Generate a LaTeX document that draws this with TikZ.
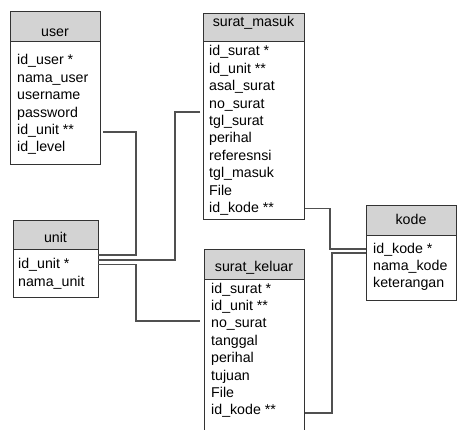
\documentclass[tikz,border=0pt]{standalone}
\usepackage{fontspec}
\setmainfont{Liberation Sans}
\definecolor{hdrgray}{HTML}{D3D3D3}
\definecolor{edgegray}{HTML}{333333}
\definecolor{conngray}{HTML}{505050}
\begin{document}
\begin{tikzpicture}[x=1pt,y=-1pt,
  tbl/.style={draw=edgegray, line width=0.9pt, inner sep=0pt, outer sep=0pt, anchor=north west},
  hdr/.style={tbl, fill=hdrgray},
  body/.style={tbl, fill=white},
  ttl/.style={font=\fontsize{14.2}{17}\selectfont, inner sep=0pt, anchor=base},
  fld/.style={font=\fontsize{14.2}{17}\selectfont, inner sep=0pt, anchor=base west},
  conn/.style={draw=conngray, line width=1.1pt}]
\useasboundingbox (0,0) rectangle (457,430);
\clip (0,0) rectangle (457,430);

% ---- user ----
\node[hdr, minimum width=90pt, minimum height=30pt] (user-h) at (10,11) {};
\node[body, minimum width=90pt, minimum height=123pt] (user-b) at (10,41) {};
\node[ttl] (user-t) at (55,37) {user};
\node[fld] (user-f1) at (17,65.0) {id\_user *};
\node[fld] (user-f2) at (17,82.4) {nama\_user};
\node[fld] (user-f3) at (17,99.8) {username};
\node[fld] (user-f4) at (17,117.2) {password};
\node[fld] (user-f5) at (17,134.6) {id\_unit **};
\node[fld] (user-f6) at (17,152.0) {id\_level};

% ---- surat_masuk ----
\node[hdr, minimum width=101pt, minimum height=28pt] (sm-h) at (203,13) {};
\node[body, minimum width=101pt, minimum height=178pt] (sm-b) at (203,41) {};
\node[ttl] (sm-t) at (253.5,27) {surat\_masuk};
\node[fld] (sm-f1) at (209,56.0) {id\_surat *};
\node[fld] (sm-f2) at (209,73.4) {id\_unit **};
\node[fld] (sm-f3) at (209,90.8) {asal\_surat};
\node[fld] (sm-f4) at (209,108.2) {no\_surat};
\node[fld] (sm-f5) at (209,125.6) {tgl\_surat};
\node[fld] (sm-f6) at (209,143.0) {perihal};
\node[fld] (sm-f7) at (209,160.4) {referesnsi};
\node[fld] (sm-f8) at (209,177.8) {tgl\_masuk};
\node[fld] (sm-f9) at (209,195.2) {File};
\node[fld] (sm-f10) at (209,212.6) {id\_kode **};

% ---- unit ----
\node[hdr, minimum width=85pt, minimum height=29pt] (unit-h) at (13,220) {};
\node[body, minimum width=85pt, minimum height=48pt] (unit-b) at (13,249) {};
\node[ttl] (unit-t) at (55.5,242) {unit};
\node[fld] (unit-f1) at (18,268) {id\_unit *};
\node[fld] (unit-f2) at (18,286) {nama\_unit};

% ---- surat_keluar ----
\node[hdr, minimum width=100pt, minimum height=30pt] (sk-h) at (204,249) {};
\node[body, minimum width=100pt, minimum height=170pt] (sk-b) at (204,279) {};
\node[ttl] (sk-t) at (254,271) {surat\_keluar};
\node[fld] (sk-f1) at (211,293.0) {id\_surat *};
\node[fld] (sk-f2) at (211,310.4) {id\_unit **};
\node[fld] (sk-f3) at (211,327.8) {no\_surat};
\node[fld] (sk-f4) at (211,345.2) {tanggal};
\node[fld] (sk-f5) at (211,362.6) {perihal};
\node[fld] (sk-f6) at (211,380.0) {tujuan};
\node[fld] (sk-f7) at (211,397.4) {File};
\node[fld] (sk-f8) at (211,414.8) {id\_kode **};

% ---- kode ----
\node[hdr, minimum width=90pt, minimum height=30pt] (kode-h) at (366,205) {};
\node[body, minimum width=90pt, minimum height=65pt] (kode-b) at (366,235) {};
\node[ttl] (kode-t) at (411,225) {kode};
\node[fld] (kode-f1) at (373,253.0) {id\_kode *};
\node[fld] (kode-f2) at (373,270.4) {nama\_kode};
\node[fld] (kode-f3) at (373,287.8) {keterangan};

% ---- connector end points ----
\coordinate (a1) at (103,132);   \coordinate (a2) at (98,255);
\coordinate (b1) at (200,112);   \coordinate (b2) at (98,260);
\coordinate (c1) at (98,264.5);  \coordinate (c2) at (200,321);
\coordinate (d1) at (305,208.5); \coordinate (d2) at (366,249);
\coordinate (e1) at (305,413);   \coordinate (e2) at (366,253);

\draw[conn] (a1) -- (136,132) -- (136,255) -- (a2);
\draw[conn] (b1) -- (175,112) -- (175,260) -- (b2);
\draw[conn] (c1) -- (136,264.5) -- (136,321) -- (c2);
\draw[conn] (d1) -- (330,208.5) -- (330,249) -- (d2);
\draw[conn] (e1) -- (332,413) -- (332,253) -- (e2);
\end{tikzpicture}
\end{document}
